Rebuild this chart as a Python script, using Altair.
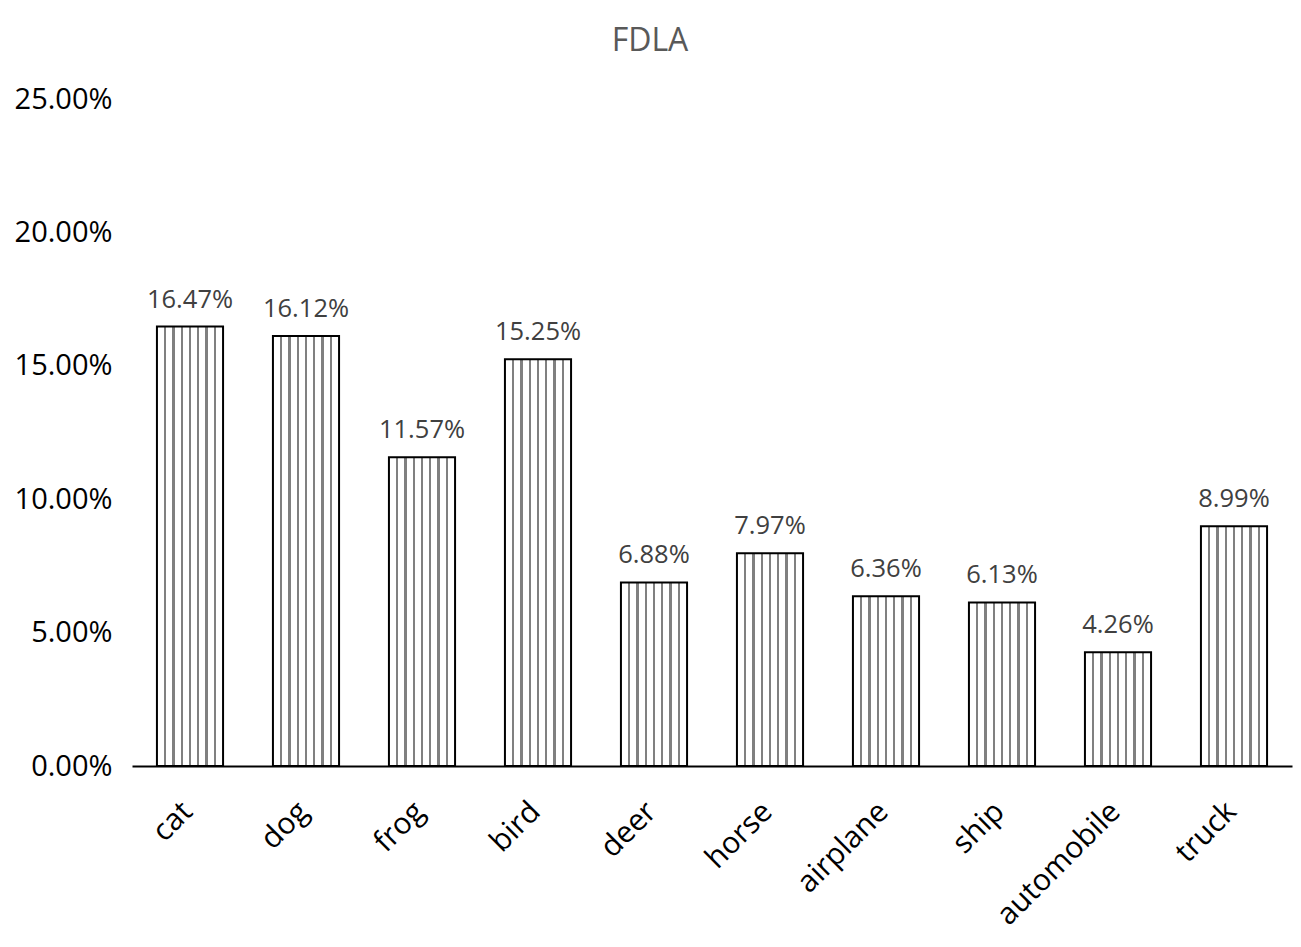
import altair as alt
import pandas as pd

categories = ["cat", "dog", "frog", "bird", "deer", "horse", "airplane", "ship", "automobile", "truck"]
values = [0.1647, 0.1612, 0.1157, 0.1525, 0.0688, 0.0797, 0.0636, 0.0613, 0.0426, 0.0899]
y_ticks = [0, 0.05, 0.10, 0.15, 0.20, 0.25]

df = pd.DataFrame({"category": categories, "value": values})

# vertical stripe pattern emulated with a hard-stop linear gradient
stops = [{"offset": 0, "color": "white"}]
w = 0.018
for i in range(1, 8):
    c = i / 8
    stops += [
        {"offset": c - w, "color": "white"},
        {"offset": c - w, "color": "#808080"},
        {"offset": c + w, "color": "#808080"},
        {"offset": c + w, "color": "white"},
    ]
stops.append({"offset": 1, "color": "white"})
stripes = alt.Gradient(gradient="linear", stops=stops, x1=0, x2=1, y1=0, y2=0)

FONT = "Open Sans"

base = alt.Chart(df).encode(
    x=alt.X("category:N", sort=categories,
            scale=alt.Scale(paddingInner=0.43, paddingOuter=0.215),
            axis=alt.Axis(title=None, labelAngle=-45, labelFontSize=30, labelColor="black",
                          labelFont=FONT, labelPadding=30, ticks=False, labelOffset=-13,
                          domainColor="black", domainWidth=2)),
    y=alt.Y("value:Q", scale=alt.Scale(domain=[0, 0.25]),
            axis=alt.Axis(title=None, values=y_ticks, format=".2%", grid=False, domain=False,
                          ticks=False, labelFontSize=29, labelColor="black", labelFont=FONT,
                          labelPadding=20)),
)

bars = base.mark_bar(fill=stripes, stroke="black", strokeWidth=2)
labels = base.mark_text(baseline="bottom", dy=-14, fontSize=25.5, color="#404040", font=FONT).encode(
    text=alt.Text("value:Q", format=".2%")
)

chart = (bars + labels).properties(
    width=1160, height=667,
    background="white",
    autosize=alt.AutoSizeParams(type="none"),
    padding={"left": 124, "top": 91, "right": 1, "bottom": 170},
    title=alt.TitleParams("FDLA", fontSize=32, color="#595959", font=FONT, fontWeight="normal",
                          anchor="middle", dx=-62, offset=27),
).configure_view(strokeWidth=0, stroke="transparent")

chart.save("out.html", embed_options={"renderer": "svg", "actions": False})
